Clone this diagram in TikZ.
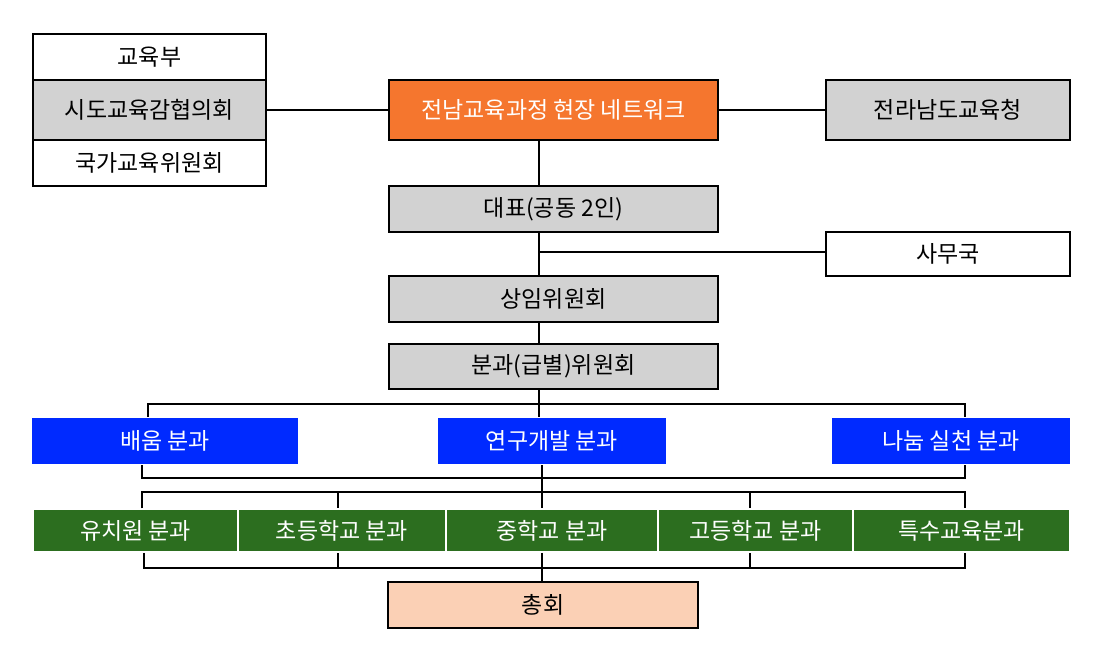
\documentclass[tikz,border=0pt]{standalone}
\usepackage{fontspec}
\setmainfont{Noto Sans CJK KR}
\usetikzlibrary{positioning}
\definecolor{boxgray}{RGB}{210,210,210}
\definecolor{netorange}{RGB}{245,118,46}
\definecolor{divblue}{RGB}{0,42,255}
\definecolor{levelgreen}{RGB}{44,110,31}
\definecolor{peach}{RGB}{251,208,181}

\begin{document}
\begin{tikzpicture}[x=1pt,y=-1pt,line width=2pt,
    box/.style={draw=black, line width=2pt, inner sep=0pt, font=\fontsize{23}{26}\selectfont},
    bluebox/.style={fill=divblue, text=white, inner sep=0pt, minimum height=46pt, font=\fontsize{23}{26}\selectfont},
    greenbox/.style={fill=levelgreen, draw=white, line width=1.5pt, text=white, inner sep=0pt, minimum height=43pt, font=\fontsize{23}{26}\selectfont}]

    \useasboundingbox (0,0) rectangle (1096,660);

    % upper part
    \node[box, minimum width=233pt, minimum height=46pt] (mofe) at (149.5,57) {교육부};
    \node[box, fill=boxgray, minimum width=233pt, minimum height=60pt] (council) at (149.5,110) {시도교육감협의회};
    \node[box, minimum width=233pt, minimum height=46pt] (natl) at (149.5,163) {국가교육위원회};
    \node[box, fill=netorange, text=white, minimum width=329pt, minimum height=60pt] (net) at (553.5,110) {전남교육과정 현장 네트워크};
    \node[box, fill=boxgray, minimum width=244pt, minimum height=60pt] (office) at (948,110) {전라남도교육청};
    \node[box, fill=boxgray, minimum width=329pt, minimum height=46pt] (rep) at (553.5,209) {대표(공동 2인)};
    \node[box, minimum width=244pt, minimum height=44pt] (sec) at (948,254) {사무국};
    \node[box, fill=boxgray, minimum width=329pt, minimum height=46pt] (standing) at (553.5,299) {상임위원회};
    \node[box, fill=boxgray, minimum width=329pt, minimum height=45pt] (divc) at (553.5,366.5) {분과(급별)위원회};

    % subject divisions
    \node[bluebox, minimum width=266pt] (learn) at (165,441) {배움 분과};
    \node[bluebox, minimum width=228pt] (research) at (552,441) {연구개발 분과};
    \node[bluebox, minimum width=238pt] (share) at (951,441) {나눔 실천 분과};

    % school levels
    \node[greenbox, minimum width=205pt] (kinder) at (135.5,530.5) {유치원 분과};
    \node[greenbox, minimum width=208pt] (elem) at (342,530.5) {초등학교 분과};
    \node[greenbox, minimum width=212pt] (middle) at (552,530.5) {중학교 분과};
    \node[greenbox, minimum width=195pt] (high) at (755.5,530.5) {고등학교 분과};
    \node[greenbox, minimum width=217pt] (special) at (961.5,530.5) {특수교육분과};

    \node[box, fill=peach, minimum width=310pt, minimum height=46pt] (assembly) at (543,605) {총회};

    \coordinate (trunk) at (539,0);
    \coordinate (lowtrunk) at (542,0);
    \coordinate (bus1) at (0,404);
    \coordinate (bus2) at (0,478);
    \coordinate (bus3) at (0,492);
    \coordinate (bus4) at (0,568);

    \draw (council.east) -- (net.west);
    \draw (net.east) -- (office.west);
    \draw (net.south -| trunk) -- (rep.north -| trunk);
    \draw (rep.south -| trunk) -- (standing.north -| trunk);
    \draw (rep.south -| trunk) ++(0,19) coordinate (secjoint) -- (secjoint -| sec.west);
    \draw (standing.south -| trunk) -- (divc.north -| trunk);

    \draw (divc.south -| trunk) -- (research.north -| trunk);
    \draw (learn.north -| 148,0) -- (148,0 |- bus1) -- (965,0 |- bus1) -- (share.north -| 965,0);

    \draw (learn.south -| 142,0) -- (142,0 |- bus2) -- (965,0 |- bus2) -- (share.south -| 965,0);
    \draw (research.south -| lowtrunk) -- (middle.north -| lowtrunk);
    \draw (kinder.north -| 142,0) -- (142,0 |- bus3) -- (965,0 |- bus3) -- (special.north -| 965,0);
    \draw (338,0 |- bus3) -- (elem.north -| 338,0);
    \draw (750,0 |- bus3) -- (high.north -| 750,0);

    \draw (kinder.south -| 144,0) -- (144,0 |- bus4) -- (965,0 |- bus4) -- (special.south -| 965,0);
    \draw (338,0 |- bus4) -- (elem.south -| 338,0);
    \draw (750,0 |- bus4) -- (high.south -| 750,0);
    \draw (middle.south -| lowtrunk) -- (assembly.north -| lowtrunk);

\end{tikzpicture}
\end{document}
